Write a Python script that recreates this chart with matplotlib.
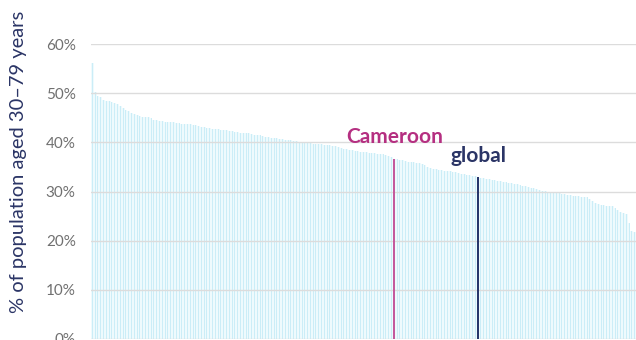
import matplotlib
matplotlib.use("Agg")
import matplotlib.pyplot as plt
import numpy as np

plt.rcParams['font.family'] = ['Lato', 'DejaVu Sans']

# share of population aged 30-79 (%), countries sorted high -> low
values = [
    56.2, 50.3, 49.4, 49.3, 48.6, 48.5, 48.4, 48.3, 48.0, 47.7,
    47.4, 47.0, 46.6, 46.3, 46.0, 45.7, 45.5, 45.3, 45.2, 45.1,
    45.1, 45.0, 44.6, 44.5, 44.4, 44.3, 44.2, 44.2, 44.1, 44.1,
    44.0, 43.9, 43.8, 43.8, 43.7, 43.7, 43.6, 43.6, 43.4, 43.2,
    43.1, 43.0, 42.9, 42.8, 42.7, 42.7, 42.6, 42.5, 42.5, 42.4,
    42.4, 42.2, 42.1, 42.0, 42.0, 41.9, 41.8, 41.6, 41.5, 41.4,
    41.4, 41.3, 41.1, 41.0, 40.9, 40.8, 40.8, 40.7, 40.6, 40.5,
    40.5, 40.4, 40.3, 40.2, 40.1, 40.0, 40.0, 39.9, 39.8, 39.7,
    39.7, 39.6, 39.6, 39.5, 39.4, 39.4, 39.3, 39.2, 39.0, 38.9,
    38.7, 38.6, 38.5, 38.4, 38.3, 38.2, 38.1, 38.0, 38.0, 37.9,
    37.8, 37.8, 37.7, 37.7, 37.6, 37.5, 37.2, 37.0, 36.7, 36.6,
    36.5, 36.4, 36.3, 36.1, 36.0, 35.9, 35.8, 35.7, 35.6, 35.3,
    35.0, 34.7, 34.6, 34.5, 34.4, 34.3, 34.2, 34.1, 34.1, 34.0,
    33.9, 33.8, 33.6, 33.5, 33.4, 33.3, 33.2, 33.1, 32.9, 32.8,
    32.7, 32.6, 32.5, 32.4, 32.3, 32.2, 32.1, 32.0, 31.9, 31.8,
    31.7, 31.6, 31.5, 31.3, 31.2, 31.1, 31.0, 30.8, 30.7, 30.5,
    30.4, 30.2, 30.1, 30.0, 29.9, 29.8, 29.7, 29.6, 29.5, 29.4,
    29.3, 29.2, 29.1, 29.0, 29.0, 28.9, 28.9, 28.8, 28.4, 28.0,
    27.7, 27.5, 27.3, 27.2, 27.1, 27.0, 27.0, 26.6, 26.3, 25.9,
    25.6, 25.4, 23.5, 22.0, 21.8,
]
highlight_names = ['Cameroon', 'global']
highlight_idx = [108, 138]
highlight_line = ['#c45a9d', '#27366b']
highlight_text = ['#b52f81', '#2b3566']
yticks = [0, 10, 20, 30, 40, 50, 60]

fig = plt.figure(figsize=(6.36, 3.4), dpi=100)
ax = fig.add_axes([91 / 636, 1 / 340, 545 / 636, 295 / 340])

x = np.arange(len(values))
vals = np.array(values)
ax.bar(x, vals, width=1.0, color='#eefafd', zorder=1)
ax.bar(x, vals, width=0.36, color='#cbedf7', zorder=2)

for name, i, lc, tc in zip(highlight_names, highlight_idx, highlight_line, highlight_text):
    ax.bar(i, values[i], width=0.8, color=lc, zorder=4)
    ax.annotate(name, (i, values[i]), xytext=(0, 8), textcoords='offset points',
                ha='center', va='bottom', fontsize=15, fontweight='bold', color=tc,
                zorder=5)

ax.set_xlim(-0.5, len(values) - 0.5)
ax.set_ylim(0, 60)
ax.set_yticks(yticks)
ax.set_yticklabels([f'{t}%' for t in yticks])
ax.set_xticks([])
ax.yaxis.grid(True, color='#dcdcdc', linewidth=1, zorder=3)
ax.set_axisbelow(False)
for s in ax.spines.values():
    s.set_visible(False)
ax.tick_params(axis='y', length=0, pad=11, labelsize=11, labelcolor='#707070')

ax.set_ylabel('% of population aged 30\u201379 years', fontsize=14.5, color='#2b3566')
ax.yaxis.set_label_coords(-0.118, 0.6)

fig.savefig('out.png', dpi=100)
